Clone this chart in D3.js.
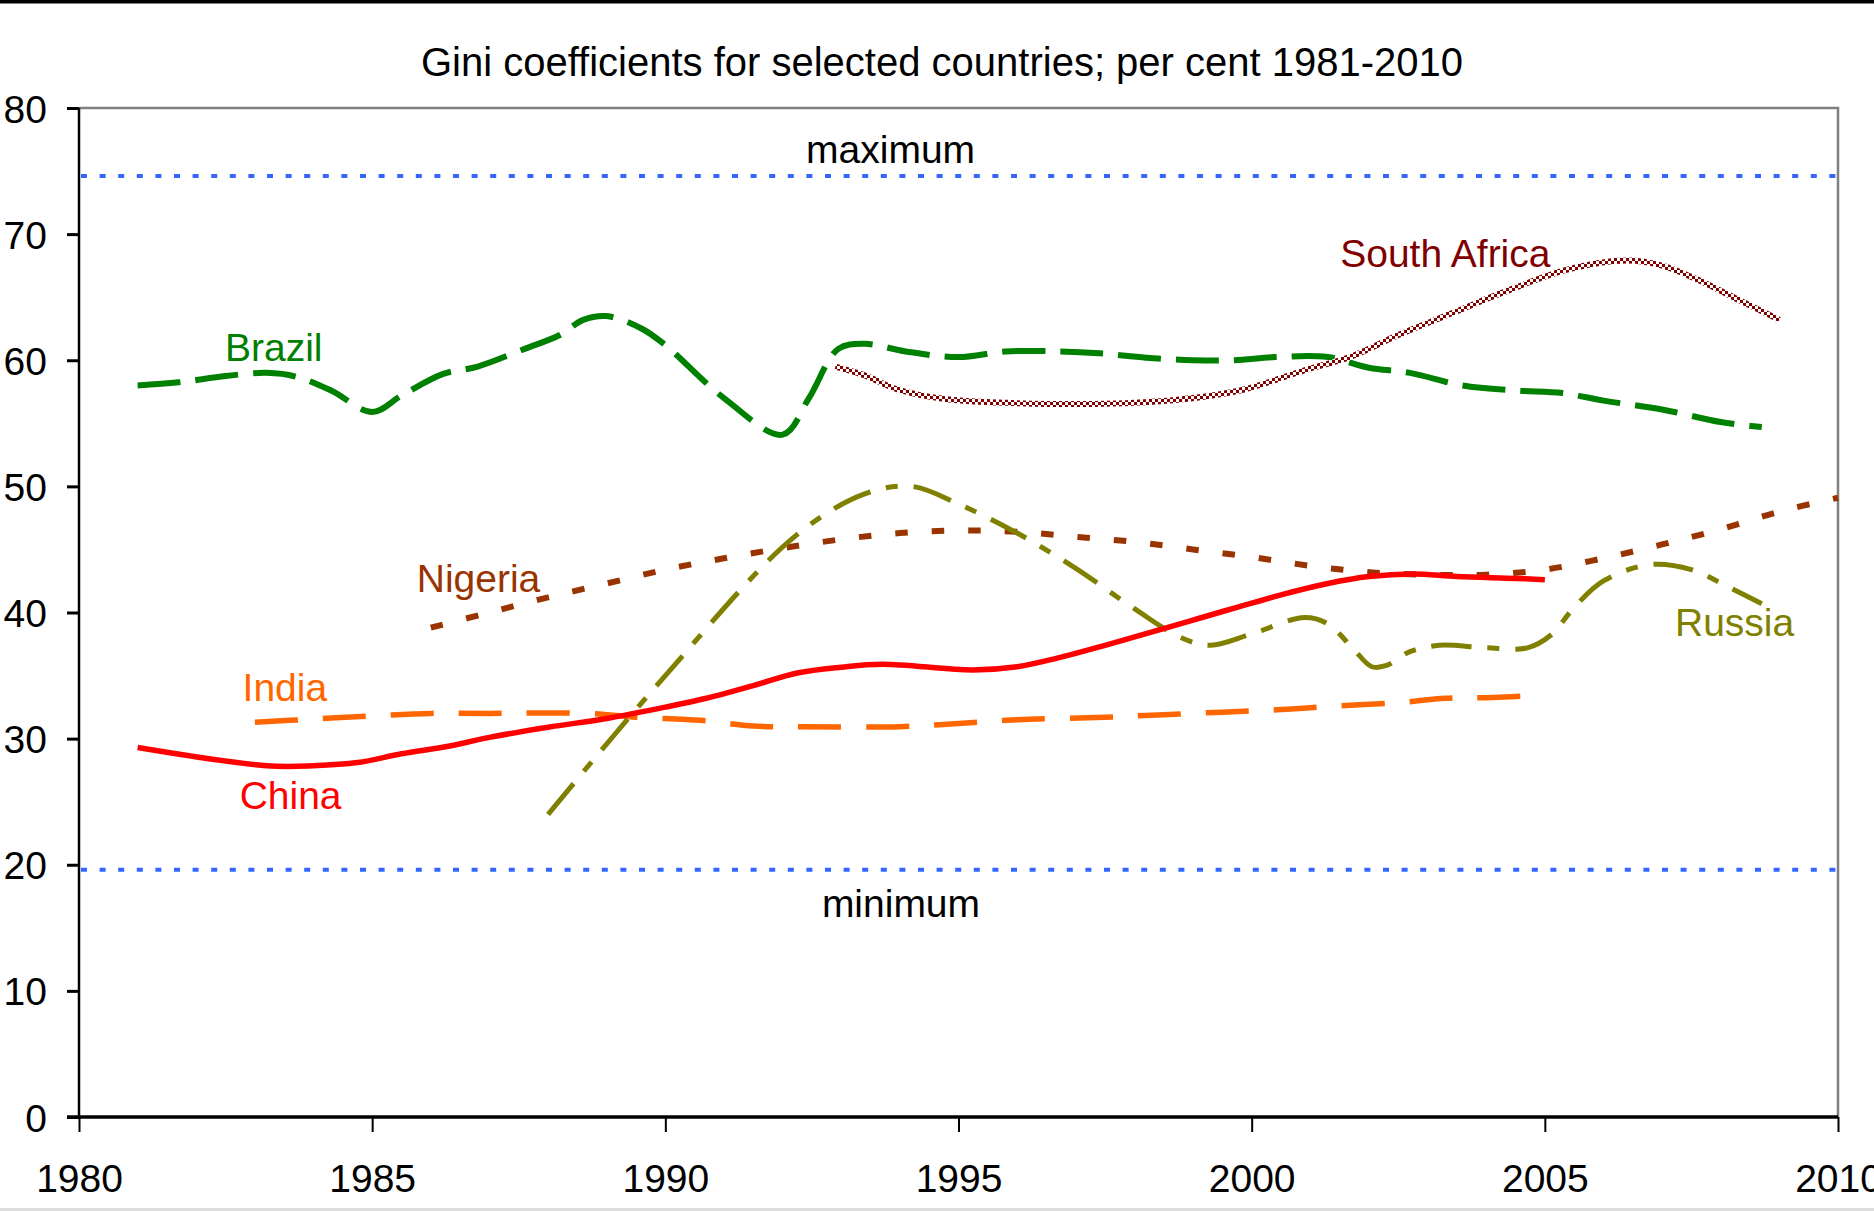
<!DOCTYPE html>
<html>
<head>
<meta charset="utf-8">
<script src="https://cdn.jsdelivr.net/npm/d3@7"></script>
<style>
  html, body { margin: 0; padding: 0; background: #fff; }
  svg { display: block; }
  text { font-family: "Liberation Sans", Arial, sans-serif; }
</style>
</head>
<body>
<script>
// ---------------- data ----------------
const title = "Gini coefficients for selected countries; per cent 1981-2010";
const xTicks = [1980, 1985, 1990, 1995, 2000, 2005, 2010];
const yTicks = [0, 10, 20, 30, 40, 50, 60, 70, 80];
const maximumValue = 74.6;
const minimumValue = 19.6;

const brazil = [
  [1981.0, 58.0], [1981.7, 58.25], [1982.5, 58.75], [1983.2, 59.0], [1983.7, 58.7],
  [1984.3, 57.6], [1985.0, 55.9], [1985.5, 57.2], [1986.2, 58.9], [1986.8, 59.5],
  [1987.6, 60.9], [1988.2, 62.0], [1988.6, 63.2], [1989.0, 63.5], [1989.6, 62.5],
  [1990.0, 61.2], [1991.0, 57.0], [1992.0, 54.1], [1992.45, 57.0], [1992.95, 60.9],
  [1993.4, 61.3], [1994.1, 60.7], [1995.0, 60.25], [1995.8, 60.7], [1996.7, 60.7],
  [1997.4, 60.55], [1998.2, 60.2], [1999.0, 60.0], [1999.7, 60.0], [2000.4, 60.25],
  [2001.3, 60.25], [2002.0, 59.4], [2002.7, 59.0], [2003.6, 58.0], [2004.5, 57.6],
  [2005.3, 57.4], [2006.0, 56.8], [2007.0, 56.1], [2008.0, 55.1], [2008.7, 54.7]
];
const southAfrica = [
  [1992.9, 59.5], [1993.4, 58.8], [1993.95, 57.7], [1994.8, 56.9], [1996.0, 56.6],
  [1997.5, 56.55], [1998.7, 56.85], [1999.8, 57.6], [2000.9, 59.2], [2001.7, 60.3],
  [2002.5, 62.0], [2003.4, 63.7], [2004.3, 65.4], [2005.4, 67.2], [2006.4, 67.9],
  [2007.0, 67.5], [2007.6, 66.4], [2008.3, 64.8], [2009.0, 63.2]
];
const nigeria = [
  [1986.0, 38.8], [1987.0, 40.0], [1988.0, 41.2], [1989.0, 42.3], [1990.0, 43.4],
  [1991.0, 44.3], [1992.0, 45.1], [1993.0, 45.8], [1994.0, 46.3], [1995.0, 46.5],
  [1996.0, 46.4], [1997.0, 46.0], [1998.0, 45.6], [1999.0, 45.0], [2000.0, 44.4],
  [2001.0, 43.7], [2002.0, 43.2], [2003.0, 43.0], [2004.0, 43.0], [2005.0, 43.4],
  [2006.0, 44.3], [2007.0, 45.4], [2008.0, 46.6], [2009.0, 48.0], [2010.0, 49.1]
];
const china = [
  [1981.0, 29.3], [1983.2, 27.85], [1984.0, 27.85], [1984.75, 28.1], [1985.5, 28.8],
  [1986.3, 29.4], [1987.0, 30.1], [1988.0, 30.9], [1989.0, 31.6], [1990.0, 32.5],
  [1990.7, 33.2], [1991.5, 34.2], [1992.25, 35.2], [1993.0, 35.66], [1993.7, 35.9],
  [1995.25, 35.45], [1996.0, 35.7], [1996.7, 36.4], [1997.5, 37.4], [1999.0, 39.4],
  [2000.5, 41.4], [2001.3, 42.3], [2002.0, 42.85], [2002.75, 43.05], [2003.5, 42.85],
  [2004.5, 42.7], [2005.0, 42.6]
];
const india = [
  [1983.0, 31.3], [1984.0, 31.55], [1985.0, 31.8], [1986.0, 32.0], [1987.0, 32.0],
  [1988.7, 32.0], [1989.5, 31.7], [1990.6, 31.45], [1991.5, 31.0], [1992.3, 30.95],
  [1994.0, 30.95], [1995.0, 31.2], [1996.0, 31.5], [1997.5, 31.7], [1998.5, 31.9],
  [1999.5, 32.1], [2000.5, 32.3], [2001.5, 32.6], [2002.5, 32.85], [2003.3, 33.2],
  [2004.0, 33.25], [2005.0, 33.45]
];
const russia = [
  [1988.0, 24.0], [1990.0, 35.0], [1992.2, 46.0], [1993.4, 49.4], [1994.2, 50.0],
  [1995.0, 48.6], [1996.0, 46.3], [1997.0, 43.5], [1998.0, 40.3], [1998.8, 38.0],
  [1999.3, 37.4], [2000.0, 38.3], [2000.9, 39.6], [2001.3, 39.1], [2001.7, 37.3],
  [2002.05, 35.7], [2002.3, 35.8], [2002.7, 36.9], [2003.2, 37.4], [2004.0, 37.2],
  [2004.7, 37.2], [2005.1, 38.2], [2005.5, 40.4], [2006.0, 42.5], [2006.8, 43.8],
  [2007.5, 43.4], [2008.1, 42.1], [2008.7, 40.7]
];

// ---------------- layout ----------------
const W = 1874, H = 1211;
const x = d3.scaleLinear().domain([1980, 2010]).range([79, 1838]);
const y = d3.scaleLinear().domain([0, 80]).range([1117, 108]);

const svg = d3.select("body").append("svg").attr("width", W).attr("height", H);

// checker pattern for South Africa
const defs = svg.append("defs");
const pat = defs.append("pattern").attr("id", "checker")
  .attr("patternUnits", "userSpaceOnUse").attr("width", 6).attr("height", 6);
pat.append("rect").attr("width", 6).attr("height", 6).attr("fill", "#fff");
pat.append("rect").attr("x", 0).attr("y", 0).attr("width", 3).attr("height", 3).attr("fill", "#800000");
pat.append("rect").attr("x", 3).attr("y", 3).attr("width", 3).attr("height", 3).attr("fill", "#800000");

// frame decorations
svg.append("rect").attr("x", 0).attr("y", 0).attr("width", W).attr("height", 3.5).attr("fill", "#000");
svg.append("rect").attr("x", 0).attr("y", 1208).attr("width", W).attr("height", 3).attr("fill", "#dcdcdc");

// title
svg.append("text").attr("x", 942).attr("y", 76).attr("text-anchor", "middle")
  .attr("font-size", 40).attr("fill", "#000").text(title);

// plot border (top, right) gray
svg.append("path")
  .attr("d", `M${x(1980)},${y(80)}H${x(2010)}V${y(0)}`)
  .attr("fill", "none").attr("stroke", "#808080").attr("stroke-width", 2.5);

// reference lines
[maximumValue, minimumValue].forEach(v => {
  svg.append("line").attr("x1", x(1980) + 2).attr("x2", x(2010) - 2)
    .attr("y1", y(v)).attr("y2", y(v))
    .attr("stroke", "#3366ff").attr("stroke-width", 4)
    .attr("stroke-dasharray", "6 12.6");
});

// axes
const yAxis = svg.append("g").attr("transform", `translate(${x(1980)},0)`)
  .call(d3.axisLeft(y).tickValues(yTicks).tickSize(12).tickPadding(20).tickFormat(d3.format("d")));
yAxis.select(".domain").attr("stroke", "#000").attr("stroke-width", 2.5)
  .attr("d", `M0,${y(80)}V${y(0)}`);
yAxis.selectAll(".tick line").attr("stroke", "#000").attr("stroke-width", 3);
yAxis.selectAll(".tick text").attr("font-size", 39).attr("fill", "#000")
  .attr("font-family", "Liberation Sans, Arial, sans-serif").attr("dy", "0.36em");

const xAxis = svg.append("g").attr("transform", `translate(0,${y(0)})`)
  .call(d3.axisBottom(x).tickValues(xTicks).tickSize(15).tickPadding(32).tickFormat(d3.format("d")));
xAxis.select(".domain").attr("stroke", "#000").attr("stroke-width", 3.5)
  .attr("d", `M${x(1980) - 12},0H${x(2010)}`);
xAxis.selectAll(".tick line").attr("stroke", "#000").attr("stroke-width", 2);
xAxis.selectAll(".tick text").attr("font-size", 39).attr("fill", "#000")
  .attr("font-family", "Liberation Sans, Arial, sans-serif").attr("dy", "0.72em");

// series
const line = d3.line().x(d => x(d[0])).y(d => y(d[1])).curve(d3.curveCatmullRom.alpha(0.5));

const series = [
  { data: brazil, stroke: "#008000", width: 6, dash: "43 15" },
  { data: southAfrica, stroke: "url(#checker)", width: 6, dash: null },
  { data: nigeria, stroke: "#993300", width: 6, dash: "12.5 24" },
  { data: india, stroke: "#ff6600", width: 5.5, dash: "43 25" },
  { data: russia, stroke: "#808000", width: 5, dash: "40 16 12 16" },
  { data: china, stroke: "#ff0000", width: 5.5, dash: null }
];
series.forEach(s => {
  const p = svg.append("path").datum(s.data).attr("d", line)
    .attr("fill", "none").attr("stroke", s.stroke).attr("stroke-width", s.width)
    .attr("stroke-linejoin", "round");
  if (s.dash) p.attr("stroke-dasharray", s.dash);
});

// labels
const labels = [
  { t: "Brazil", yr: 1982.49, v: 59.95, c: "#008000" },
  { t: "South Africa", yr: 2001.51, v: 67.43, c: "#800000" },
  { t: "Nigeria", yr: 1985.76, v: 41.63, c: "#993300" },
  { t: "India", yr: 1982.79, v: 32.99, c: "#ff6600" },
  { t: "China", yr: 1982.74, v: 24.42, c: "#ff0000" },
  { t: "Russia", yr: 2007.22, v: 38.17, c: "#808000" },
  { t: "maximum", yr: 1992.4, v: 75.65, c: "#000" },
  { t: "minimum", yr: 1992.67, v: 15.84, c: "#000" }
];
labels.forEach(l => {
  svg.append("text").attr("x", x(l.yr)).attr("y", y(l.v))
    .attr("font-size", 39).attr("fill", l.c).text(l.t);
});
</script>
</body>
</html>
